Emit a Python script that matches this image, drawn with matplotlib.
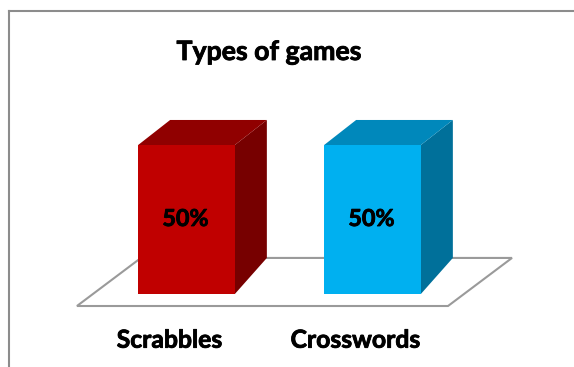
import matplotlib
matplotlib.use("Agg")
import matplotlib.pyplot as plt
import matplotlib.patheffects as pe
from matplotlib.patches import Polygon, Rectangle

# Chart content
title = "Types of games"
categories = ["Scrabbles", "Crosswords"]
values = [50, 50]
value_labels = ["50%", "50%"]

# Face colours for each bar: front, top, side
front_colors = ["#C00000", "#00B0F0"]
top_colors = ["#900000", "#0088BB"]
side_colors = ["#770000", "#00709A"]

FONT = ["Lato", "DejaVu Sans"]
HEAVY = [pe.withStroke(linewidth=0.6, foreground="black")]

fig = plt.figure(figsize=(5.74, 3.67), dpi=100)
ax = fig.add_axes([0, 0, 1, 1])
ax.set_xlim(-1.0027, 2.0833)
ax.set_ylim(-24.5, 98.66)
ax.axis("off")

# 3-D look: depth shift of the back faces (x units / y units) and the
# perspective shrink of their heights
bar_w = 0.52
dx = 0.172
back_base = 12.1
back_scale = 0.926


def back_y(v):
    return back_base + back_scale * v


# floor plane
fl_x0, fl_x1 = -0.589, 1.406
fl_front, fl_dx = -4.03, 0.344
floor = Polygon([(fl_x0, fl_front), (fl_x1, fl_front),
                 (fl_x1 + fl_dx, back_y(0)), (fl_x0 + fl_dx, back_y(0))],
                closed=True, facecolor="white", edgecolor="#9A9A9A",
                linewidth=1.5, zorder=1)
ax.add_patch(floor)

for i, (cat, v, lab) in enumerate(zip(categories, values, value_labels)):
    x0, x1 = i - bar_w / 2, i + bar_w / 2
    # side face
    ax.add_patch(Polygon([(x1, 0), (x1 + dx, back_y(0)), (x1 + dx, back_y(v)), (x1, v)],
                         closed=True, facecolor=side_colors[i], edgecolor="none", zorder=2))
    # top face
    ax.add_patch(Polygon([(x0, v), (x1, v), (x1 + dx, back_y(v)), (x0 + dx, back_y(v))],
                         closed=True, facecolor=top_colors[i], edgecolor="none", zorder=2))
    # front face
    ax.add_patch(Rectangle((x0, 0), bar_w, v, facecolor=front_colors[i],
                           edgecolor="none", zorder=3))
    ax.text(i - 0.005, v / 2, lab, ha="center", va="center", fontsize=16.8,
            fontweight="bold", family=FONT, color="black", zorder=4,
            path_effects=HEAVY)
    ax.text(i - 0.092, -15.5, cat, ha="center", va="center", fontsize=17.8,
            fontweight="bold", family=FONT, color="black", zorder=4,
            path_effects=HEAVY)

fig.text(269 / 574, 1 - 52 / 367, title, ha="center", va="center", fontsize=19.2,
         fontweight="bold", family=FONT, color="black", path_effects=HEAVY)

# chart area border
fig.add_artist(plt.Line2D([8.5 / 574, 8.5 / 574], [0, 1 - 10.5 / 367],
                          transform=fig.transFigure, color="#8C8C8C", linewidth=1.5))
fig.add_artist(plt.Line2D([8.5 / 574, 1], [1 - 10.5 / 367, 1 - 10.5 / 367],
                          transform=fig.transFigure, color="#8C8C8C", linewidth=1.5))

fig.savefig("out.png", dpi=100, facecolor="white")
